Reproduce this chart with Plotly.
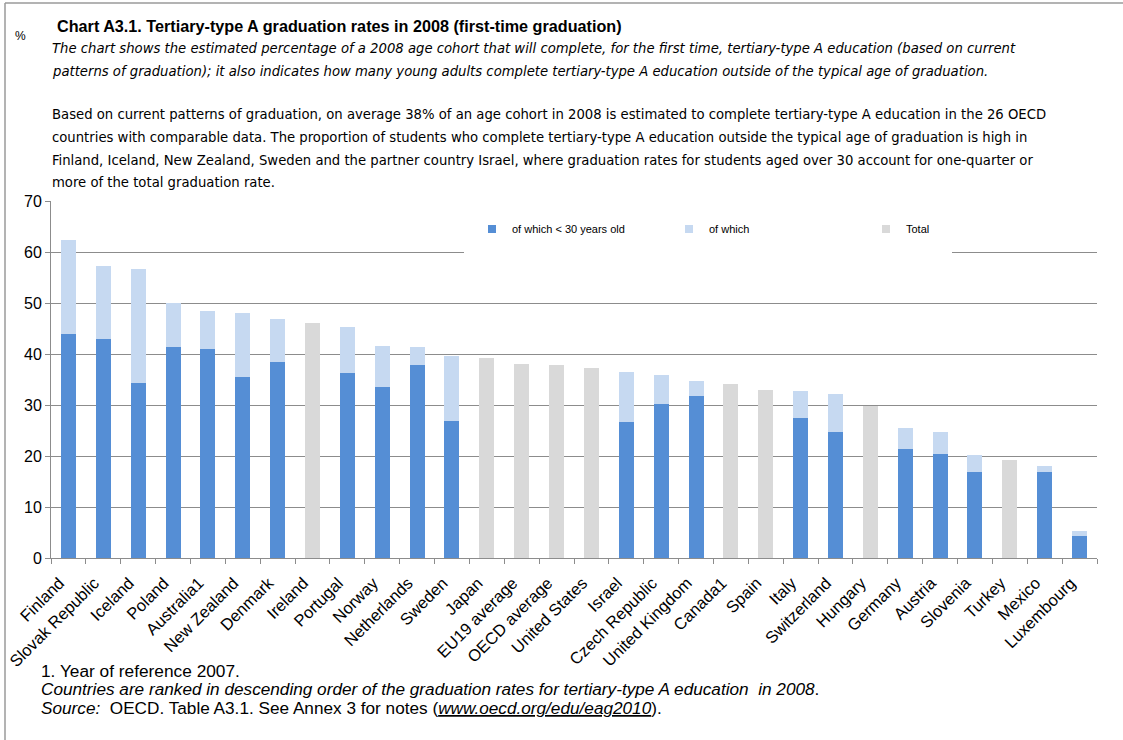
import plotly.graph_objects as go

countries = ["Finland", "Slovak Republic", "Iceland", "Poland", "Australia1", "New Zealand",
             "Denmark", "Ireland", "Portugal", "Norway", "Netherlands", "Sweden", "Japan",
             "EU19 average", "OECD average", "United States", "Israel", "Czech Republic",
             "United Kingdom", "Canada1", "Spain", "Italy", "Switzerland", "Hungary",
             "Germany", "Austria", "Slovenia", "Turkey", "Mexico", "Luxembourg"]

# graduates younger than 30
under_30 = [44.0, 43.0, 34.4, 41.3, 40.9, 35.4, 38.5, None, 36.2, 33.6, 37.8, 26.8, None,
            None, None, None, 26.6, 30.1, 31.7, None, None, 27.5, 24.8, None,
            21.3, 20.3, 16.8, None, 16.8, 4.4]
# remaining part ("of which") on top
rest = [18.4, 14.2, 22.2, 8.7, 7.6, 12.7, 8.3, None, 9.0, 7.9, 3.5, 12.9, None,
        None, None, None, 9.8, 5.7, 3.1, None, None, 5.3, 7.4, None,
        4.1, 4.5, 3.3, None, 1.3, 0.8]
# countries with total only
total = [None, None, None, None, None, None, None, 46.0, None, None, None, None, 39.3,
         38.1, 37.9, 37.3, None, None, None, 34.2, 33.0, None, None, 29.9,
         None, None, None, 19.3, None, None]

series = [("of which < 30 years old", under_30, '#558ED5'),
          ("of which", rest, '#C6D9F1'),
          ("Total", total, '#D9D9D9')]

W, H = 1123, 740
L, R, T, B = 51, 26, 201, 182
PW, PH = W - L - R, H - T - B


def px(x):
    return (x - L) / PW


def py(y):
    return (H - B - y) / PH


ARIAL = "Liberation Sans, Arial, sans-serif"
NARROW = "Liberation Sans Narrow, DejaVu Sans Condensed, Arial Narrow, sans-serif"

fig = go.Figure()
for name, vals, color in series:
    fig.add_trace(go.Bar(name=name, x=countries, y=vals, marker_color=color,
                         marker_line_width=0, showlegend=False))
# small square legend keys, like the Excel original
for name, vals, color in series:
    fig.add_trace(go.Scatter(name=name, x=[None], y=[None], mode='markers',
                             marker=dict(symbol='square', size=8, color=color)))

ann = []


def text(x, y, s, size, family=ARIAL):
    ann.append(dict(x=px(x), y=py(y), xref='paper', yref='paper', text=s, showarrow=False,
                    xanchor='left', yanchor='middle', align='left',
                    font=dict(family=family, size=size, color='#000000')))


text(13, 36, "%", 12)
text(55, 26, "<b>Chart A3.1. Tertiary-type A graduation rates in 2008 (first-time graduation)</b>", 16.2)
text(50, 47, "<i>The chart shows the estimated percentage of a 2008 age cohort that will complete, "
             "for the first time, tertiary-type A education (based on current</i>", 14.7, NARROW)
text(50, 70, "<i>patterns of graduation); it also indicates how many young adults complete "
             "tertiary-type A education outside of the typical age of graduation.</i>", 14.7, NARROW)
para = [
    "Based on current patterns of graduation, on average 38% of an age cohort in 2008 is estimated "
    "to complete tertiary-type A education in the 26 OECD",
    "countries with comparable data. The proportion of students who complete tertiary-type A "
    "education outside the typical age of graduation is high in",
    "Finland, Iceland, New Zealand, Sweden and the partner country Israel, where graduation rates "
    "for students aged over 30 account for one-quarter or",
    "more of the total graduation rate.",
]
for i, line in enumerate(para):
    text(50, 114 + i * 22.6, line, 14.7, NARROW)

text(39, 671, "1. Year of reference 2007.", 17.3)
text(39, 689, "<i>Countries are ranked in descending order of the graduation rates for "
              "tertiary-type A education  in 2008</i>.", 17.2)
text(39, 708, "<i>Source:</i>  OECD. Table A3.1. See Annex 3 for notes "
              "(<i><u>www.oecd.org/edu/eag2010</u></i>).", 17.2)

shapes = [
    # white patch behind the legend (hides the 60 gridline there)
    dict(type='rect', xref='paper', yref='paper', x0=px(464), x1=px(952), y0=py(258), y1=py(206),
         fillcolor='white', line=dict(width=0), layer='above'),
    # outer frame
    dict(type='line', xref='paper', yref='paper', x0=px(5), x1=px(5), y0=py(3), y1=py(740),
         line=dict(color='#9a9a9a', width=1.5)),
    dict(type='line', xref='paper', yref='paper', x0=px(5), x1=px(1123), y0=py(3), y1=py(3),
         line=dict(color='#9a9a9a', width=1.5)),
]

fig.update_layout(
    barmode='stack',
    bargap=0.57,
    width=W, height=H,
    margin=dict(l=L, r=R, t=T, b=B, autoexpand=False),
    plot_bgcolor='white',
    paper_bgcolor='white',
    font=dict(family=ARIAL, color='#000000'),
    showlegend=True,
    legend=dict(orientation='h', x=px(472), y=py(229), xanchor='left', yanchor='middle',
                bgcolor='rgba(0,0,0,0)', font=dict(size=11, family=ARIAL),
                entrywidth=152, entrywidthmode='pixels', itemwidth=30, traceorder='normal'),
    annotations=ann,
    shapes=shapes,
)
fig.update_xaxes(tickangle=-45, tickfont=dict(size=16.5, family=ARIAL), showline=True,
                 linecolor='#8c8c8c', ticks='outside', tickson='boundaries', ticklen=5,
                 tickcolor='#8c8c8c', showgrid=False, automargin=False,
                 ticklabelstandoff=8, ticklabelshift=-9)
fig.update_yaxes(range=[0, 70], dtick=10, tickfont=dict(size=16, family=ARIAL), showline=True,
                 linecolor='#8c8c8c', ticks='outside', ticklen=5, tickcolor='#8c8c8c',
                 gridcolor='#8c8c8c', gridwidth=1, zeroline=False, automargin=False)

fig.write_html("out.html", config={'displayModeBar': False},
               post_script="document.body.style.margin='0';")
